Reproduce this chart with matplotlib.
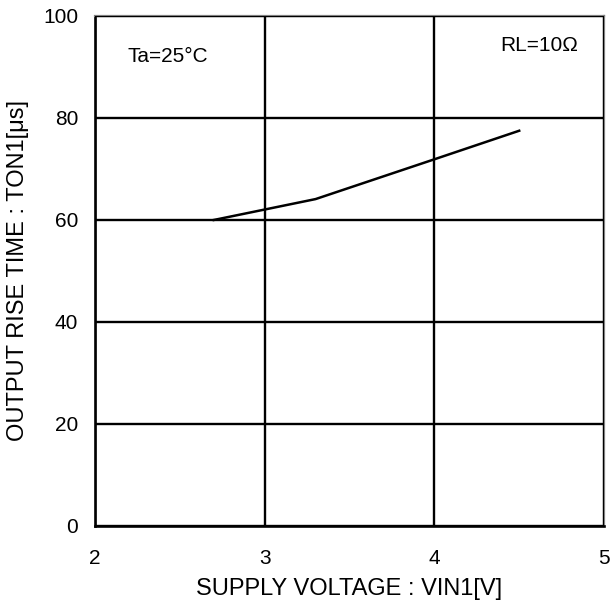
import matplotlib
matplotlib.use("Agg")
import matplotlib.pyplot as plt

plt.rcParams['font.family'] = ['Liberation Sans', 'DejaVu Sans']

# Supply voltage vs. output rise time
vin = [2.7, 3.3, 4.0, 4.5]
ton = [60.0, 64.1, 71.9, 77.5]
xticks = [2, 3, 4, 5]
yticks = [0, 20, 40, 60, 80, 100]

fig = plt.figure(figsize=(6.12, 6.01), dpi=100)
ax = fig.add_axes([0.1552, 0.1248, 0.8318, 0.8486])

ax.plot(vin, ton, color='black', lw=1.8, zorder=3)

ax.set_xlim(2, 5)
ax.set_ylim(0, 100)
ax.set_xticks(xticks)
ax.set_yticks(yticks)
ax.tick_params(length=0, labelsize=15)
ax.tick_params(axis='x', pad=16.5)
ax.tick_params(axis='y', pad=12)

ax.grid(True, color='black', lw=1.7)
ax.set_axisbelow(False)

for side in ('left', 'bottom'):
    ax.spines[side].set_color('black')
    ax.spines[side].set_linewidth(1.9)
for side in ('top', 'right'):
    ax.spines[side].set_color('#808080')
    ax.spines[side].set_linewidth(1.6)

ax.set_xlabel('SUPPLY VOLTAGE : VIN1[V]', fontsize=17, labelpad=7)
ax.set_ylabel('OUTPUT RISE TIME : TON1[μs]', fontsize=17, labelpad=10)

ax.text(2.194, 92.0, 'Ta=25°C', fontsize=15, va='center', ha='left')
ax.text(4.847, 94.3, 'RL=10Ω', fontsize=15, va='center', ha='right')

fig.savefig('out.png', dpi=100)
